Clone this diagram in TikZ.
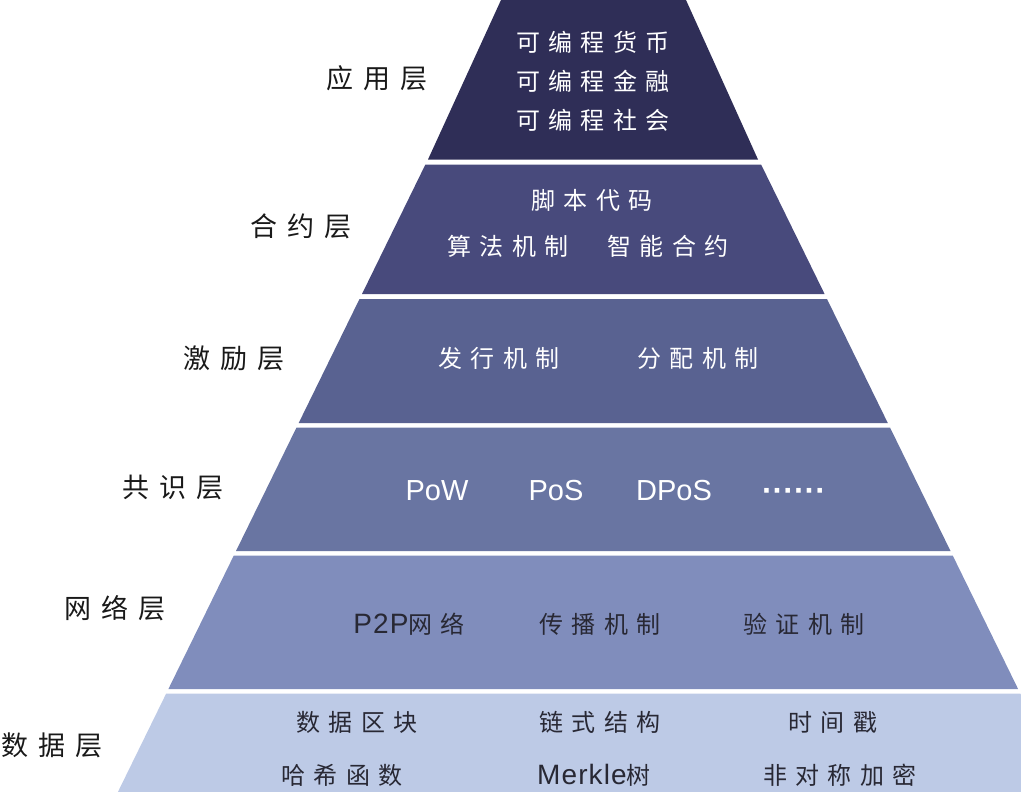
\documentclass[tikz,border=0pt]{standalone}
\usepackage{fontspec}
\setmainfont{Liberation Sans}
\newfontfamily\cjklbl[LetterSpace=36]{Noto Sans CJK SC}
\newfontfamily\cjktxt[LetterSpace=34]{Noto Sans CJK SC}
\newfontfamily\latin{Liberation Sans}
\definecolor{cA}{RGB}{47,46,87}
\definecolor{cB}{RGB}{72,74,124}
\definecolor{cC}{RGB}{89,98,145}
\definecolor{cD}{RGB}{105,117,162}
\definecolor{cE}{RGB}{128,141,188}
\definecolor{cF}{RGB}{189,202,230}
\definecolor{darktxt}{RGB}{40,40,52}
\definecolor{lbltxt}{RGB}{25,25,25}
\newcommand{\biglatin}[1]{{\fontsize{28}{30}\selectfont\latin\addfontfeature{LetterSpace=4} #1}}
\tikzset{
  lbl/.style={inner sep=0pt, text=lbltxt, font=\fontsize{27}{30}\selectfont\cjklbl},
  wtxt/.style={inner sep=0pt, text=white, font=\fontsize{24}{28}\selectfont\cjktxt},
  dtxt/.style={inner sep=0pt, text=darktxt, font=\fontsize{24}{28}\selectfont\cjktxt},
  wlat/.style={inner sep=0pt, text=white, font=\fontsize{29}{32}\selectfont\latin},
}
\begin{document}
\begin{tikzpicture}[x=1pt,y=-1pt]
\useasboundingbox (0,0) rectangle (1021,792);
\begin{scope}
\clip (0,0) rectangle (1021,792);
\fill[cA] (501,0) -- (686,0) -- (758,159.5) -- (428,159.5) -- cycle;
\fill[cB] (425.4,164.5) -- (761.1,164.5) -- (824.6,294) -- (362,294) -- cycle;
\fill[cC] (359.5,299) -- (827,299) -- (887.8,423) -- (298.7,423) -- cycle;
\fill[cD] (296.5,427.5) -- (890,427.5) -- (950.5,551) -- (236,551) -- cycle;
\fill[cE] (233.8,555.5) -- (952.7,555.5) -- (1018.1,689) -- (168.4,689) -- cycle;
\fill[cF] (166.2,693.5) -- (1020.3,693.5) -- (1068.6,792) -- (117.9,792) -- cycle;
\end{scope}
% layer labels
\node[lbl] (l1) at (377,78) {应用层};
\node[lbl] (l2) at (301,226) {合约层};
\node[lbl] (l3) at (234,358) {激励层};
\node[lbl] (l4) at (173,487) {共识层};
\node[lbl] (l5) at (115,608) {网络层};
\node[lbl] (l6) at (52,745) {数据层};
% application layer
\node[wtxt] (a1) at (593,42) {可编程货币};
\node[wtxt] (a2) at (593,81) {可编程金融};
\node[wtxt] (a3) at (593,120) {可编程社会};
% contract layer
\node[wtxt] (b1) at (592,200) {脚本代码};
\node[wtxt] (b2) at (508,246) {算法机制};
\node[wtxt] (b3) at (668,246) {智能合约};
% incentive layer
\node[wtxt] (c1) at (499,358) {发行机制};
\node[wtxt] (c2) at (698,358) {分配机制};
% consensus layer
\node[wlat, anchor=base] (d1) at (437,500) {PoW};
\node[wlat, anchor=base] (d2) at (556,500) {PoS};
\node[wlat, anchor=base] (d3) at (674,500) {DPoS};
\node[inner sep=0pt, text=white, font=\fontsize{32}{34}\selectfont\latin\bfseries] (d4) at (794,495) {······};
% network layer
\node[dtxt] (e1) at (409,624) {\biglatin{P2P}网络};
\node[dtxt] (e2) at (600,624) {传播机制};
\node[dtxt] (e3) at (804,624) {验证机制};
% data layer
\node[dtxt] (f1) at (357,722) {数据区块};
\node[dtxt] (f2) at (600,722) {链式结构};
\node[dtxt] (f3) at (833,722) {时间戳};
\node[dtxt] (f4) at (342,775) {哈希函数};
\node[dtxt] (f5) at (594,775) {\biglatin{Merkle}树};
\node[dtxt] (f6) at (840,775) {非对称加密};
\end{tikzpicture}
\end{document}
